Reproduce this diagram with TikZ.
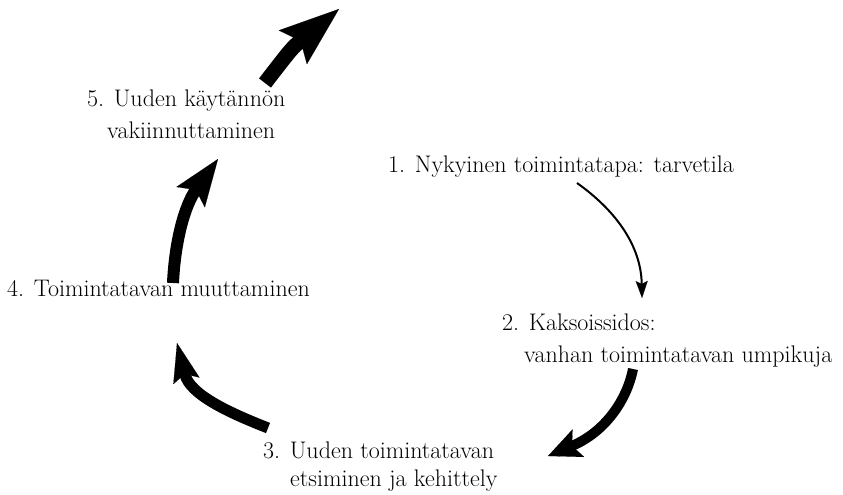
\documentclass[tikz,border=0pt]{standalone}
\usepackage{fontspec}
\usetikzlibrary{arrows.meta}
\begin{document}
\begin{tikzpicture}[x=1pt,y=-1pt,
  lbl/.style={anchor=base west, inner sep=0pt, font=\rmfamily\fontsize{24}{29}\selectfont},
  thinarrow/.style={draw=black, line width=2pt,
    -{Stealth[length=17pt,width=12pt,inset=3pt,line width=0.1pt]}},
  fat/.style={draw=black, line cap=butt},
  ]
\useasboundingbox (0,0) rectangle (843,495);

% labels
\node[lbl] (t1)  at (388,172) {1. Nykyinen toimintatapa: tarvetila};
\node[lbl] (t2a) at (502,330) {2. Kaksoissidos:};
\node[lbl] (t2b) at (524,362) {vanhan toimintatavan umpikuja};
\node[lbl] (t3a) at (263,458) {3. Uuden toimintatavan};
\node[lbl] (t3b) at (290,486) {etsiminen ja kehittely};
\node[lbl] (t4)  at (7,296)   {4. Toimintatavan muuttaminen};
\node[lbl] (t5a) at (87,106)  {5. Uuden käytännön};
\node[lbl] (t5b) at (107,138) {vakiinnuttaminen};

% connector end points
\coordinate (a12s) at (577,183);
\coordinate (a12e) at (642,298);
\coordinate (a23s) at (633,369);
\coordinate (a23e) at (548,456);
\coordinate (a34s) at (268,428);
\coordinate (a34e) at (177,343);
\coordinate (a45s) at (173,283);
\coordinate (a45e) at (218,159);
\coordinate (a5s)  at (265,83);
\coordinate (a5e)  at (339,9);

% connectors
\draw[thinarrow] (a12s) .. controls (615,210) and (641,245) .. (a12e);
\draw[fat, line width=10pt, -{Stealth[length=33pt,width=30pt,inset=7pt,line width=0.1pt]}]
  (a23s) .. controls (627,400) and (605,432) .. (a23e);
\draw[fat, line width=11pt, -{Stealth[length=39pt,width=27pt,inset=7pt,line width=0.1pt]}]
  (a34s) .. controls (230,413) and (190,395) .. (a34e);
\draw[fat, line width=12pt, -{Stealth[length=47pt,width=35pt,inset=9pt,line width=0.1pt]}]
  (a45s) .. controls (175,240) and (185,205) .. (a45e);
\draw[fat, line width=15pt, -{Stealth[length=60pt,width=44pt,inset=10pt,line width=0.1pt]}]
  (a5s) .. controls (292,48) .. (a5e);
\end{tikzpicture}
\end{document}
